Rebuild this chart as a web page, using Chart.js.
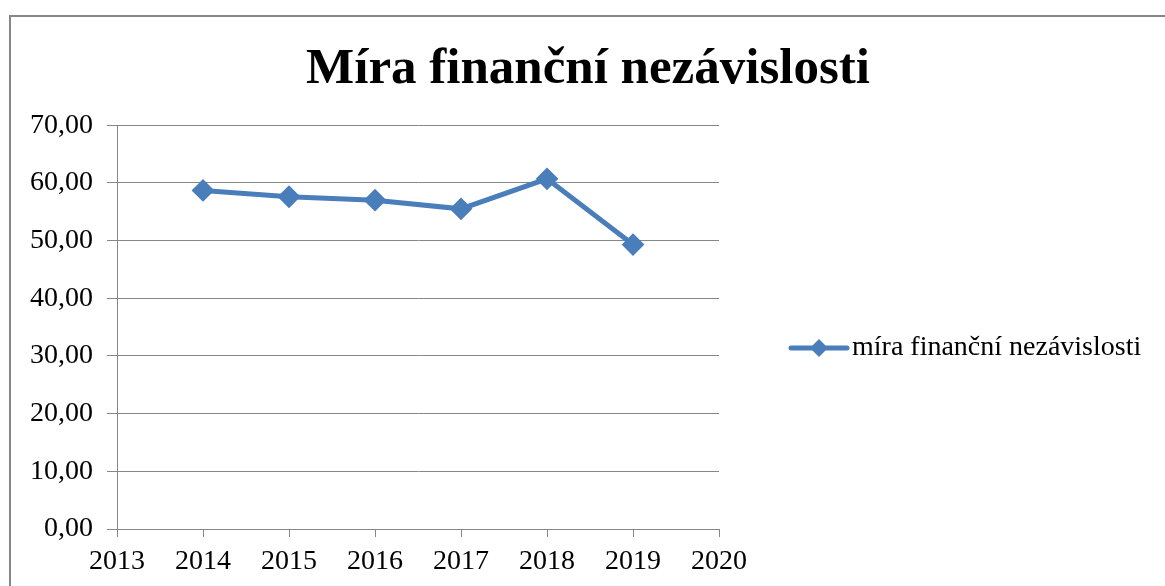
<!DOCTYPE html>
<html>
<head>
<meta charset="utf-8">
<script src="https://cdn.jsdelivr.net/npm/chart.js@4.4.1/dist/chart.umd.min.js"></script>
<style>
  html, body { margin: 0; padding: 0; background: #ffffff; width: 1165px; height: 586px; overflow: hidden; }
  #frame { position: absolute; left: 9px; top: 15px; width: 1160px; height: 575px; border-left: 2px solid #878787; border-top: 2px solid #878787; }
  #wrap { position: absolute; left: 11px; top: 17px; width: 1154px; height: 569px; }
</style>
</head>
<body>
<div id="frame"></div>
<div id="wrap"><canvas id="c"></canvas></div>
<script>
const chartTitle = 'Míra finanční nezávislosti';
const seriesName = 'míra finanční nezávislosti';
const years = [2014, 2015, 2016, 2017, 2018, 2019];
const values = [58.7, 57.6, 57.0, 55.5, 60.7, 49.3];
const xMin = 2013, xMax = 2020;
const yMin = 0, yMax = 70, yStep = 10;

const BLUE = '#4a7ebb';
const GRID = '#878787';
const FONT = "'Liberation Serif', 'Times New Roman', serif";

// legend sample: line with a diamond
function legendSample() {
  const cv = document.createElement('canvas');
  cv.width = 70; cv.height = 24;
  const g = cv.getContext('2d');
  g.strokeStyle = BLUE; g.lineWidth = 5; g.lineCap = 'round';
  g.beginPath(); g.moveTo(8, 12); g.lineTo(64, 12); g.stroke();
  g.fillStyle = BLUE;
  g.beginPath(); g.moveTo(36, 3); g.lineTo(45, 12); g.lineTo(36, 21); g.lineTo(27, 12); g.closePath(); g.fill();
  return cv;
}
const sample = legendSample();

const layoutFix = {
  id: 'layoutFix',
  beforeLayout(chart) {
    const lg = chart.legend;
    if (lg && !lg._patched) {
      const orig = lg.fit.bind(lg);
      lg.fit = function () { orig(); this.width = 446; };
      lg._patched = true;
    }
  },
  afterLayout(chart) {
    const lg = chart.legend;
    if (lg) {
      lg.left = 777;
      lg.top = 129; lg.bottom = 533;
    }
  }
};

new Chart(document.getElementById('c'), {
  type: 'line',
  data: {
    datasets: [{
      label: seriesName,
      data: years.map((y, i) => ({ x: y, y: values[i] })),
      borderColor: BLUE,
      backgroundColor: BLUE,
      borderWidth: 5,
      pointStyle: 'rectRot',
      pointRadius: 10,
      pointBorderWidth: 2,
      pointBackgroundColor: BLUE,
      pointBorderColor: BLUE,
      tension: 0
    }]
  },
  options: {
    responsive: true,
    maintainAspectRatio: false,
    animation: false,
    layout: { padding: 0 },
    plugins: {
      title: {
        display: true,
        text: chartTitle,
        color: '#000000',
        font: { family: FONT, size: 51, weight: 'bold', lineHeight: 1.2 },
        padding: { top: 22, bottom: 25 }
      },
      legend: {
        display: true,
        position: 'right',
        labels: {
          color: '#000000',
          font: { family: FONT, size: 28 },
          usePointStyle: true,
          pointStyleWidth: 40,
          padding: 10,
          generateLabels(chart) {
            return [{ text: seriesName, pointStyle: sample, fillStyle: BLUE, strokeStyle: BLUE, lineWidth: 0, datasetIndex: 0, hidden: false }];
          }
        }
      },
      tooltip: { enabled: false }
    },
    scales: {
      x: {
        type: 'linear',
        min: xMin, max: xMax,
        afterFit(s) { s.height = 57; },
        ticks: {
          stepSize: 1,
          color: '#000000',
          font: { family: FONT, size: 28 },
          padding: 8,
          maxRotation: 0,
          autoSkip: false,
          callback: v => String(v)
        },
        grid: { drawOnChartArea: false, drawTicks: true, tickLength: 8, color: GRID, lineWidth: 1 },
        border: { display: true, color: GRID, width: 1 }
      },
      y: {
        min: yMin, max: yMax,
        afterFit(s) { s.width = 106; },
        ticks: {
          stepSize: yStep,
          color: '#000000',
          font: { family: FONT, size: 28 },
          padding: 14,
          callback: v => Number(v).toFixed(2).replace('.', ',')
        },
        grid: { drawOnChartArea: true, drawTicks: true, tickLength: 10, color: GRID, lineWidth: 1 },
        border: { display: true, color: GRID, width: 1 }
      }
    }
  },
  plugins: [layoutFix]
});
</script>
</body>
</html>
